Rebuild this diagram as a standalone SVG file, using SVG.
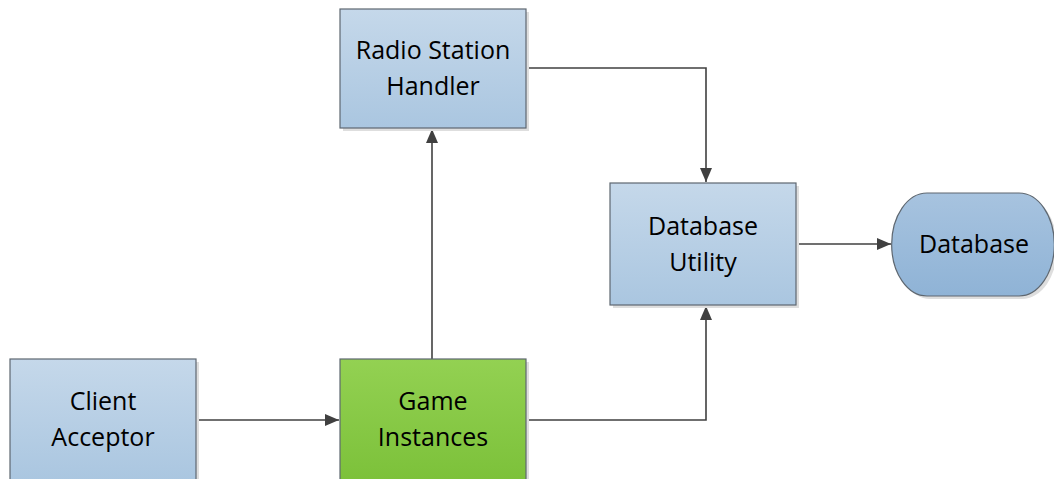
<svg xmlns="http://www.w3.org/2000/svg" width="1054" height="479" viewBox="0 0 1054 479">
  <style>
    .box { stroke: #5e6770; stroke-width: 1.2; }
    .blue { fill: url(#gBlue); }
    .green { fill: url(#gGreen); }
    .db { fill: url(#gDb); }
    .shadow { fill: #dedede; }
    .label { font-family: "Open Sans", "Liberation Sans", sans-serif; font-size: 25px; fill: #000; text-anchor: middle; }
    .conn { fill: none; stroke: #404040; stroke-width: 1.6; marker-end: url(#arrow); }
  </style>
  <defs>
    <linearGradient id="gBlue" x1="0" y1="0" x2="0" y2="1">
      <stop offset="0" stop-color="#c5d8ea"/>
      <stop offset="1" stop-color="#aac6e0"/>
    </linearGradient>
    <linearGradient id="gGreen" x1="0" y1="0" x2="0" y2="1">
      <stop offset="0" stop-color="#93d152"/>
      <stop offset="1" stop-color="#7cc13a"/>
    </linearGradient>
    <linearGradient id="gDb" x1="0" y1="0" x2="0" y2="1">
      <stop offset="0" stop-color="#a7c3df"/>
      <stop offset="1" stop-color="#8fb3d6"/>
    </linearGradient>
    <marker id="arrow" viewBox="0 0 14 12" refX="14" refY="6" markerWidth="14" markerHeight="12" markerUnits="userSpaceOnUse" orient="auto">
      <path d="M0,0 L14,6 L0,12 Z" fill="#404040"/>
    </marker>
  </defs>

  <!-- connectors -->
  <g id="connectors">
    <path class="conn" d="M197,420 H339"/>
    <path class="conn" d="M432,359 V129"/>
    <path class="conn" d="M526,68 H706 V182"/>
    <path class="conn" d="M526,420 H706 V306"/>
    <path class="conn" d="M796,244 H891"/>
  </g>

  <g id="radio-station-handler">
    <rect class="shadow" x="343" y="12" width="186" height="119"/>
    <rect class="box blue" x="340" y="9" width="186" height="119"/>
    <text class="label" x="433" y="59">Radio Station</text>
    <text class="label" x="433" y="95">Handler</text>
  </g>

  <g id="database-utility">
    <rect class="shadow" x="613" y="186" width="186" height="122"/>
    <rect class="box blue" x="610" y="183" width="186" height="122"/>
    <text class="label" x="703" y="235">Database</text>
    <text class="label" x="703" y="271">Utility</text>
  </g>

  <g id="database">
    <path class="shadow" d="M930,196 H1022 A35,51 0 0 1 1022,299 H930 A35,51 0 0 1 930,196 Z"/>
    <path class="box db" d="M927,193 H1019 A35,51 0 0 1 1019,296 H927 A35,51 0 0 1 927,193 Z"/>
    <text class="label" x="974" y="253">Database</text>
  </g>

  <g id="client-acceptor">
    <rect class="shadow" x="13" y="362" width="186" height="122"/>
    <rect class="box blue" x="10" y="359" width="186" height="122"/>
    <text class="label" x="103" y="410">Client</text>
    <text class="label" x="103" y="446">Acceptor</text>
  </g>

  <g id="game-instances">
    <rect class="shadow" x="343" y="362" width="186" height="122"/>
    <rect class="box green" x="340" y="359" width="186" height="122"/>
    <text class="label" x="433" y="410">Game</text>
    <text class="label" x="433" y="446">Instances</text>
  </g>
</svg>
